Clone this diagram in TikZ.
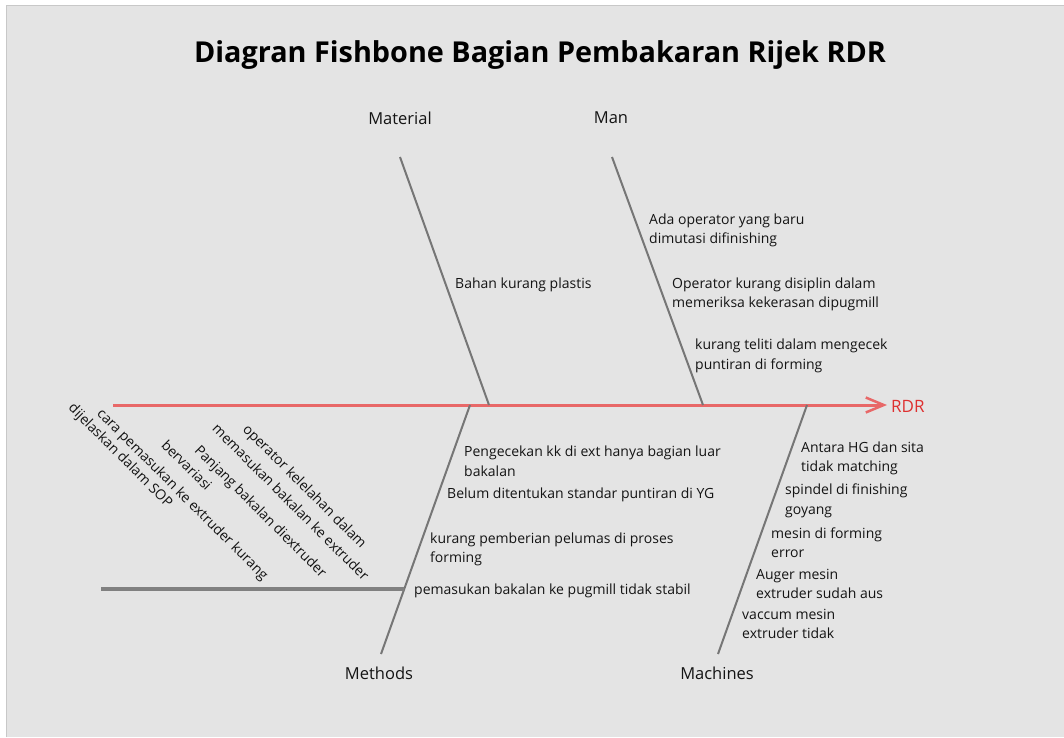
\documentclass[tikz,border=0pt]{standalone}
\usepackage{fontspec}
\setmainfont{Open Sans}
\usetikzlibrary{arrows.meta}
\definecolor{bg}{RGB}{228,228,228}
\definecolor{frame}{RGB}{200,200,200}
\definecolor{spine}{RGB}{232,104,104}
\definecolor{rdrtext}{RGB}{222,48,48}
\definecolor{bone}{RGB}{118,118,118}
\definecolor{bar}{RGB}{128,128,128}
\definecolor{txt}{RGB}{20,20,20}
\tikzset{
  x=1pt, y=-1pt,
  cause/.style={anchor=west, align=left, inner sep=0pt, text=txt, font=\fontsize{14}{19.5}\selectfont},
  rotcause/.style={anchor=center, inner sep=0pt, text=txt, rotate=-45, font=\fontsize{14}{19.5}\selectfont},
  catlabel/.style={anchor=center, inner sep=0pt, text=txt, font=\fontsize{16.5}{19}\selectfont},
  bonestyle/.style={draw=bone, line width=2pt},
}
\begin{document}
\begin{tikzpicture}
\useasboundingbox (0,0) rectangle (1064,737);
\fill[white] (0,0) rectangle (1064,737);
\fill[bg] (6,5) rectangle (1064,737);
\draw[frame, line width=1pt] (6.5,737) -- (6.5,5.5) -- (1064,5.5);

% title
\node[inner sep=0pt, text=black, font=\fontsize{28.8}{32}\selectfont\bfseries] (title) at (540,55) {Diagran Fishbone Bagian Pembakaran Rijek RDR};

% spine
\coordinate (tail) at (113,405);
\node[anchor=west, inner sep=0pt, text=rdrtext, font=\fontsize{17}{19}\selectfont] (rdr) at (891,406) {RDR};
\coordinate (head) at (887,405);
\draw[spine, line width=3pt, -{Straight Barb[length=18pt,width=15pt,line width=2.5pt]}] (tail) -- (head);

% category labels
\node[catlabel] (material) at (400,118) {Material};
\node[catlabel] (man) at (611,118) {Man};
\node[catlabel] (methods) at (379,673) {Methods};
\node[catlabel] (machines) at (717,673) {Machines};

% bones
\coordinate (matTop) at (400,157);
\coordinate (matBot) at (489,405);
\coordinate (manTop) at (612,157);
\coordinate (manBot) at (703,405);
\coordinate (metTop) at (470,405);
\coordinate (metBot) at (381,654);
\coordinate (macTop) at (807,405);
\coordinate (macBot) at (718,654);
\draw[bonestyle] (matTop) -- (matBot);
\draw[bonestyle] (manTop) -- (manBot);
\draw[bonestyle] (metTop) -- (metBot);
\draw[bonestyle] (macTop) -- (macBot);

% left sub-branch bar
\coordinate (barL) at (101,589);
\coordinate (barR) at (404,589);
\draw[bar, line width=4.5pt] (barL) -- (barR);

% Material causes
\node[cause] (c1) at (455,285) {Bahan kurang plastis};

% Man causes
\node[cause] (m1) at (649,230.5) {Ada operator yang baru\\dimutasi difinishing};
\node[cause] (m2) at (672,294.5) {Operator kurang disiplin dalam\\memeriksa kekerasan dipugmill};
\node[cause] (m3) at (695,356) {kurang teliti dalam mengecek\\puntiran di forming};

% Methods causes
\node[cause] (t1) at (464,461) {Pengecekan kk di ext hanya bagian luar\\bakalan};
\node[cause] (t2) at (447,495) {Belum ditentukan standar puntiran di YG};
\node[cause] (t3) at (430,549.5) {kurang pemberian pelumas di proses\\forming};
\node[cause] (t4) at (414,590.5) {pemasukan bakalan ke pugmill tidak stabil};

% Machines causes
\node[cause] (h1) at (801,458.5) {Antara HG dan sita\\tidak matching};
\node[cause] (h2) at (785,501) {spindel di finishing\\goyang};
\node[cause] (h3) at (771,542.5) {mesin di forming\\error};
\node[cause] (h4) at (756,584) {Auger mesin\\extruder sudah aus};
\node[cause] (h5) at (742,624) {vaccum mesin\\extruder tidak};

% rotated sub-causes on the bar
\node[rotcause] (r1a) at (304,487) {operator kelelahan dalam};
\node[rotcause] (r1b) at (291,502) {memasukan bakalan ke extruder};
\node[rotcause] (r2a) at (260,512) {Panjang bakalan diextruder};
\node[rotcause] (r2b) at (187,465) {bervariasi};
\node[rotcause] (r3a) at (182,495) {cara pemasukan ke extruder kurang};
\node[rotcause] (r3b) at (120,456) {dijelaskan dalam SOP};
\end{tikzpicture}
\end{document}
